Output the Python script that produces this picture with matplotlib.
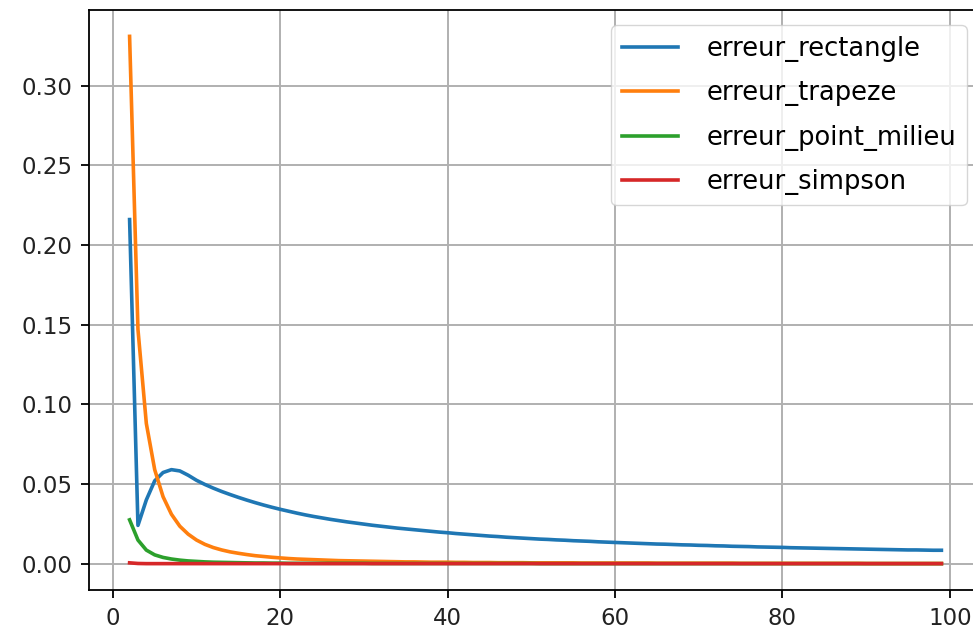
import numpy as np
import matplotlib
matplotlib.use("Agg")
import matplotlib.pyplot as plt

# nombre de subdivisions
n = np.arange(2, 100)

erreur_rectangle = [
    0.216, 0.024, 0.040, 0.052, 0.0572, 0.0590, 0.0582, 0.0555, 0.0523, 0.0497,
    0.0474, 0.0453, 0.0434, 0.0416, 0.0399, 0.0383, 0.0368, 0.0354, 0.0341, 0.0329,
    0.0317, 0.0306, 0.0296, 0.0287, 0.0278, 0.0270, 0.0262, 0.0255, 0.0248, 0.0241,
    0.0235, 0.0229, 0.0223, 0.0218, 0.0213, 0.0208, 0.0203, 0.0198, 0.0194, 0.0189,
    0.0185, 0.0181, 0.0177, 0.0173, 0.0170, 0.0166, 0.0163, 0.0160, 0.0157, 0.0154,
    0.0152, 0.0149, 0.0147, 0.0144, 0.0142, 0.0140, 0.0137, 0.0135, 0.0133, 0.0131,
    0.0129, 0.0127, 0.0125, 0.0123, 0.0122, 0.0120, 0.0118, 0.0117, 0.0115, 0.0114,
    0.0112, 0.0111, 0.0109, 0.0108, 0.0107, 0.0105, 0.0104, 0.0103, 0.0102, 0.0100,
    0.0099, 0.0098, 0.0097, 0.0096, 0.0095, 0.0094, 0.0093, 0.0092, 0.0091, 0.0090,
    0.0089, 0.0088, 0.0087, 0.0086, 0.0086, 0.0085, 0.0084, 0.0084,
]

erreur_trapeze = [
    0.331, 0.147, 0.088, 0.059, 0.042, 0.031, 0.0235, 0.0185, 0.0148, 0.0121,
    0.0101, 0.0086, 0.0074, 0.0065, 0.0057, 0.0050, 0.0045, 0.0040, 0.0036, 0.0032,
    0.0029, 0.0027, 0.0025, 0.0023, 0.0021, 0.0019, 0.0018, 0.0017, 0.0016, 0.0015,
    0.0014, 0.0013, 0.0012, 0.0011, 0.0011, 0.0010, 0.0009, 0.0009, 0.0009, 0.0008,
    0.0008, 0.0007, 0.0007, 0.0007, 0.0006, 0.0006, 0.0006, 0.0006, 0.0005, 0.0005,
    0.0005, 0.0005, 0.0005, 0.0005, 0.0004, 0.0004, 0.0004, 0.0004, 0.0004, 0.0004,
    0.0004, 0.0004, 0.0004, 0.0003, 0.0003, 0.0003, 0.0003, 0.0003, 0.0003, 0.0003,
    0.0003, 0.0003, 0.0003, 0.0002, 0.0002, 0.0002, 0.0002, 0.0002, 0.0002, 0.0002,
    0.0002, 0.0002, 0.0002, 0.0002, 0.0002, 0.0002, 0.0002, 0.0002, 0.0001, 0.0001,
    0.0001, 0.0001, 0.0001, 0.0001, 0.0001, 0.0001, 0.0001, 0.0001,
]

erreur_point_milieu = [
    0.0275, 0.0148, 0.0085, 0.0055, 0.0039, 0.0029, 0.0022, 0.0017, 0.0014, 0.0011,
    0.0009, 0.0008, 0.0007, 0.0006, 0.0005, 0.0004, 0.0004, 0.0003, 0.0003, 0.0002,
    0.0002, 0.0002, 0.0002, 0.0002, 0.0002, 0.0002, 0.0002, 0.0002, 0.0002, 0.0001,
    0.0001, 0.0001, 0.0001, 0.0001, 0.0001, 0.0001, 0.0001, 0.0001, 0.0001, 0.0001,
    0.0001, 0.0001, 0.0001, 0.0001, 0.0001, 0.0001, 0.0001, 0.0001, 0.0001, 0.0000,
    0.0000, 0.0000, 0.0000, 0.0000, 0.0000, 0.0000, 0.0000, 0.0000, 0.0000, 0.0000,
    0.0000, 0.0000, 0.0000, 0.0000, 0.0000, 0.0000, 0.0000, 0.0000, 0.0000, 0.0000,
    0.0000, 0.0000, 0.0000, 0.0000, 0.0000, 0.0000, 0.0000, 0.0000, 0.0000, 0.0000,
    0.0000, 0.0000, 0.0000, 0.0000, 0.0000, 0.0000, 0.0000, 0.0000, 0.0000, 0.0000,
    0.0000, 0.0000, 0.0000, 0.0000, 0.0000, 0.0000, 0.0000, 0.0000,
]

erreur_simpson = [
    0.0005, 0.0001, 0.0000, 0.0000, 0.0000, 0.0000, 0.0000, 0.0000, 0.0000, 0.0000,
    0.0000, 0.0000, 0.0000, 0.0000, 0.0000, 0.0000, 0.0000, 0.0000, 0.0000, 0.0000,
    0.0000, 0.0000, 0.0000, 0.0000, 0.0000, 0.0000, 0.0000, 0.0000, 0.0000, 0.0000,
    0.0000, 0.0000, 0.0000, 0.0000, 0.0000, 0.0000, 0.0000, 0.0000, 0.0000, 0.0000,
    0.0000, 0.0000, 0.0000, 0.0000, 0.0000, 0.0000, 0.0000, 0.0000, 0.0000, 0.0000,
    0.0000, 0.0000, 0.0000, 0.0000, 0.0000, 0.0000, 0.0000, 0.0000, 0.0000, 0.0000,
    0.0000, 0.0000, 0.0000, 0.0000, 0.0000, 0.0000, 0.0000, 0.0000, 0.0000, 0.0000,
    0.0000, 0.0000, 0.0000, 0.0000, 0.0000, 0.0000, 0.0000, 0.0000, 0.0000, 0.0000,
    0.0000, 0.0000, 0.0000, 0.0000, 0.0000, 0.0000, 0.0000, 0.0000, 0.0000, 0.0000,
    0.0000, 0.0000, 0.0000, 0.0000, 0.0000, 0.0000, 0.0000, 0.0000,
]

fig = plt.figure(figsize=(9.73, 6.35), dpi=100)
# axe un peu plus large que la figure : le bord droit est coupé comme sur l'original
ax = fig.add_axes([89 / 973, 45 / 635, 893 / 973, 580 / 635])

ax.plot(n, erreur_rectangle, label="erreur_rectangle", lw=2.6)
ax.plot(n, erreur_trapeze, label="erreur_trapeze", lw=2.6)
ax.plot(n, erreur_point_milieu, label="erreur_point_milieu", lw=2.6)
ax.plot(n, erreur_simpson, label="erreur_simpson", lw=2.6)

ax.grid(True, color="#b0b0b0", lw=1.4)
ax.set_xticks([0, 20, 40, 60, 80, 100])
ax.tick_params(labelsize=16.5, length=6, width=1.3, pad=6, labelcolor="#222222")
for s in ax.spines.values():
    s.set_linewidth(1.3)

ax.legend(loc="upper right", fontsize=18.5, handlelength=2.2, handletextpad=1.1,
          borderaxespad=0.6, labelspacing=0.72)

fig.savefig("out.png", dpi=100)
